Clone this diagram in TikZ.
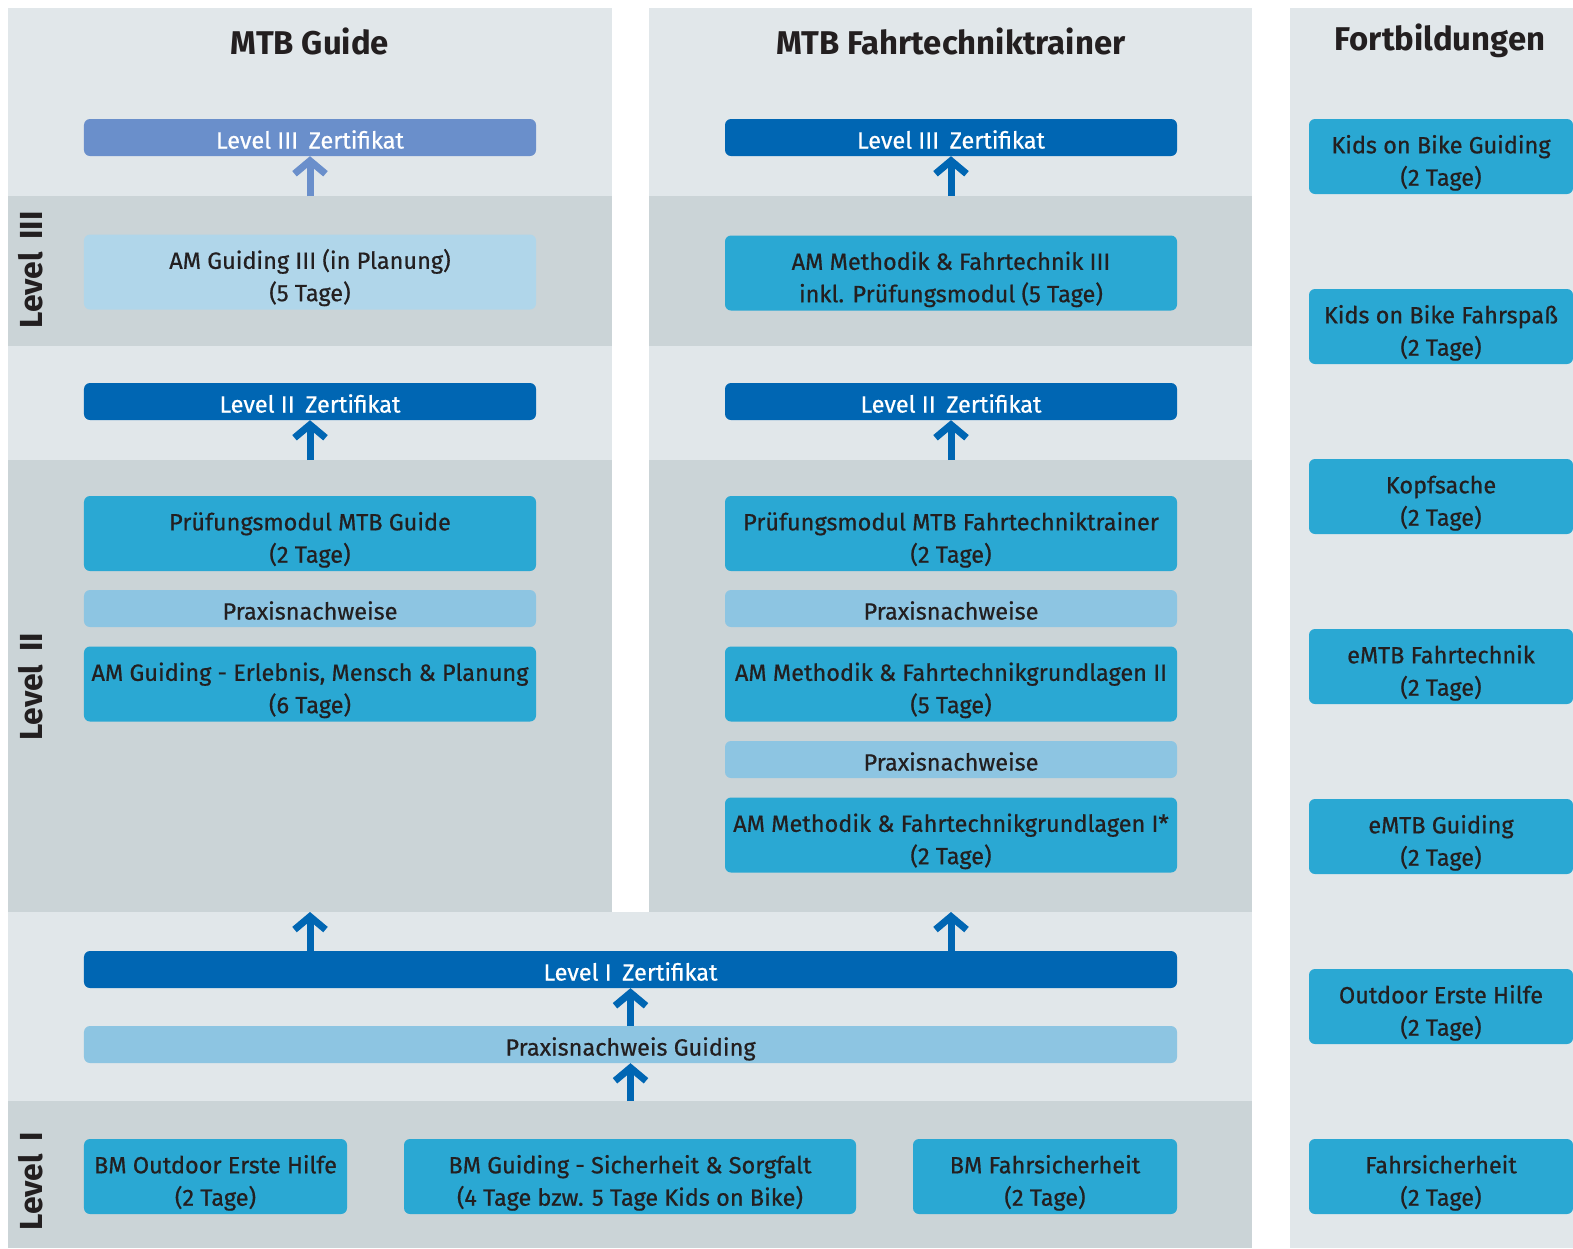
\documentclass[tikz,border=0pt]{standalone}
\usepackage{fontspec}
\setmainfont{Fira Sans}[UprightFeatures={FakeBold=0.6}]
\usetikzlibrary{arrows.meta}

\definecolor{bglight}{HTML}{E1E7EA}
\definecolor{bgdark}{HTML}{CBD4D7}
\definecolor{certblue}{HTML}{0066B3}
\definecolor{certlav}{HTML}{6A8FCB}
\definecolor{modblue}{HTML}{2AA8D3}
\definecolor{praxblue}{HTML}{8DC5E2}
\definecolor{planblue}{HTML}{B0D6EA}
\definecolor{txtdark}{HTML}{231F20}

% two lines of a module box, pushed a little down
\newcommand\twolines[2]{\rule{0pt}{1.32em}#1\\#2}

\tikzset{
  box/.style={rounded corners=6bp, fill=modblue, text=txtdark, align=center,
    inner sep=0pt, minimum height=75bp, font=\fontsize{23.6}{32.5}\selectfont},
  oneline/.style={minimum height=37bp,
    execute at begin node={\rule{0pt}{1.24em}},
    execute at end node={\rule[-0.3em]{0pt}{0.3em}}},
  wide/.style={minimum width=452bp},
  side/.style={box, minimum width=264bp},
  cert/.style={box, oneline, fill=certblue, text=white},
  prax/.style={box, oneline, fill=praxblue},
  title/.style={text=txtdark, font=\fontsize{33}{36}\selectfont\bfseries},
  levellabel/.style={text=txtdark, rotate=90, font=\fontsize{32}{36}\selectfont\bfseries},
  up/.style={line width=7bp, certblue, -{Straight Barb[length=13bp, width=31bp]}},
}

\begin{document}
\begin{tikzpicture}[x=1bp, y=-1bp]
  \useasboundingbox (0,0) rectangle (1573,1248);

  % Draw the column panels
  \fill[bglight] (8,8) rectangle (612,912);
  \fill[bglight] (649,8) rectangle (1252,912);
  \fill[bglight] (1290,8) rectangle (1573,1248);
  \fill[bglight] (8,912) rectangle (1252,1248);

  % Draw the level bands
  \fill[bgdark] (8,196) rectangle (612,346);
  \fill[bgdark] (649,196) rectangle (1252,346);
  \fill[bgdark] (8,460) rectangle (612,912);
  \fill[bgdark] (649,460) rectangle (1252,912);
  \fill[bgdark] (8,1101) rectangle (1252,1248);

  % Titles and level labels
  \node[title] (tguide) at (310,41) {MTB Guide};
  \node[title] (ttrainer) at (951,41) {MTB Fahrtechniktrainer};
  \node[title] (tfort) at (1440,41) {Fortbildungen};

  \node[levellabel] (lab3) at (31,270) {Level\hspace{0.4em}III};
  \node[levellabel] (lab2) at (31,687) {Level\hspace{0.4em}II};
  \node[levellabel] (lab1) at (31,1181) {Level\hspace{0.4em}I};

  % MTB Guide column
  \node[cert, wide, fill=certlav] (g3cert) at (310,137.5) {Level III\hspace{0.45em}Zertifikat};
  \node[box, wide, fill=planblue] (g3mod) at (310,272) {\twolines{AM Guiding III (in Planung)}{(5 Tage)}};
  \node[cert, wide] (g2cert) at (310,401.5) {Level II\hspace{0.45em}Zertifikat};
  \node[box, wide] (g2pruef) at (310,533.5) {\twolines{Prüfungsmodul MTB Guide}{(2 Tage)}};
  \node[prax, wide] (g2prax) at (310,608.5) {Praxisnachweise};
  \node[box, wide] (g2am) at (310,684) {\twolines{AM Guiding - Erlebnis, Mensch \& Planung}{(6 Tage)}};

  % MTB Fahrtechniktrainer column
  \node[cert, wide] (f3cert) at (951,137.5) {Level III\hspace{0.45em}Zertifikat};
  \node[box, wide] (f3mod) at (951,273) {\twolines{AM Methodik \& Fahrtechnik III}{inkl. Prüfungsmodul (5 Tage)}};
  \node[cert, wide] (f2cert) at (951,401.5) {Level II\hspace{0.45em}Zertifikat};
  \node[box, wide] (f2pruef) at (951,533.5) {\twolines{Prüfungsmodul MTB Fahrtechniktrainer}{(2 Tage)}};
  \node[prax, wide] (f2prax) at (951,608.5) {Praxisnachweise};
  \node[box, wide] (f2am) at (951,684) {\twolines{AM Methodik \& Fahrtechnikgrundlagen II}{(5 Tage)}};
  \node[prax, wide] (f1prax) at (951,759.5) {Praxisnachweise};
  \node[box, wide] (f1am) at (951,835) {\twolines{AM Methodik \& Fahrtechnikgrundlagen I*}{(2 Tage)}};

  % Level I
  \node[cert, minimum width=1093bp] (l1cert) at (630.5,969.5) {Level I\hspace{0.45em}Zertifikat};
  \node[prax, minimum width=1093bp] (l1prax) at (630.5,1044.5) {Praxisnachweis Guiding};
  \node[box, minimum width=263bp] (bmhilfe) at (215.5,1176.5) {\twolines{BM Outdoor Erste Hilfe}{(2 Tage)}};
  \node[box, wide] (bmguide) at (630,1176.5) {\twolines{BM Guiding - Sicherheit \& Sorgfalt}{(4 Tage bzw. 5 Tage Kids on Bike)}};
  \node[box, minimum width=264bp] (bmfahr) at (1045,1176.5) {\twolines{BM Fahrsicherheit}{(2 Tage)}};

  % Fortbildungen
  \node[side] (kobguide) at (1441,156.5) {\twolines{Kids on Bike Guiding}{(2 Tage)}};
  \node[side] (kobfahr) at (1441,326.5) {\twolines{Kids on Bike Fahrspaß}{(2 Tage)}};
  \node[side] (kopf) at (1441,496.5) {\twolines{Kopfsache}{(2 Tage)}};
  \node[side] (emtbfahr) at (1441,666.5) {\twolines{eMTB Fahrtechnik}{(2 Tage)}};
  \node[side] (emtbguide) at (1441,836.5) {\twolines{eMTB Guiding}{(2 Tage)}};
  \node[side] (ohilfe) at (1441,1006.5) {\twolines{Outdoor Erste Hilfe}{(2 Tage)}};
  \node[side] (fsicher) at (1441,1176.5) {\twolines{Fahrsicherheit}{(2 Tage)}};

  % Arrows
  \coordinate (g3base) at (310,196);
  \coordinate (g2base) at (310,460);
  \coordinate (f3base) at (951,196);
  \coordinate (f2base) at (951,460);
  \coordinate (gtop) at (310,912);
  \coordinate (ftop) at (951,912);
  \coordinate (l1base) at (630.5,1101);

  \draw[up, certlav] (g3base) -- (g3cert.south);
  \draw[up] (g2base) -- (g2cert.south);
  \draw[up] (f3base) -- (f3cert.south);
  \draw[up] (f2base) -- (f2cert.south);
  \draw[up] (gtop |- l1cert.north) -- (gtop);
  \draw[up] (ftop |- l1cert.north) -- (ftop);
  \draw[up] (l1prax.north) -- (l1cert.south);
  \draw[up] (l1base) -- (l1prax.south);
\end{tikzpicture}
\end{document}
